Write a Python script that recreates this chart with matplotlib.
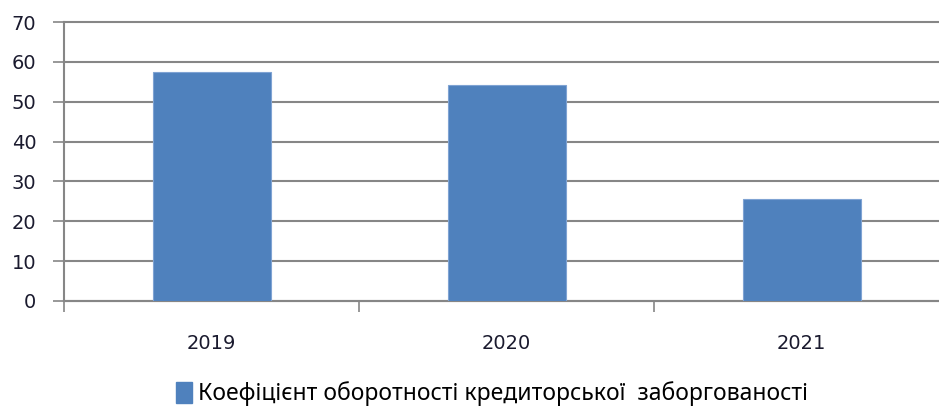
import matplotlib.pyplot as plt
from matplotlib.patches import Patch

# ---------- Дані ----------
roky = ["2019", "2020", "2021"]
koef = [57.4, 54.2, 25.7]
nazva_ryadu = "Коефіцієнт оборотності кредиторської  заборгованості"

# ---------- Графік ----------
fig = plt.figure(figsize=(9.39, 4.07), dpi=100)
ax = fig.add_axes([64 / 939, 106 / 407, 885 / 939, 279 / 407])

sirij = "#868686"
ax.bar(range(len(roky)), koef, width=0.4, color="#4F81BD",
       edgecolor="#7FA3D3", linewidth=0.8, zorder=3)

ax.set_xlim(-0.5, 2.5)
ax.set_ylim(0, 70)
ax.set_yticks(range(0, 71, 10))
ax.yaxis.grid(True, color=sirij, linewidth=1.5, zorder=0)
for g in ax.get_ygridlines():
    g.set_clip_on(False)

ax.set_xticks(range(len(roky)))
ax.set_xticklabels(roky)
ax.set_xticks([-0.5, 0.5, 1.5, 2.5], minor=True)
ax.tick_params(axis="x", which="major", length=0, pad=24)
ax.tick_params(axis="x", which="minor", length=8, width=1.2, color=sirij)
ax.tick_params(axis="y", length=8, width=1.2, color=sirij, pad=12)
for lbl in ax.get_xticklabels() + ax.get_yticklabels():
    lbl.set_fontsize(14)
    lbl.set_color("#1a1a2e")

for s in ["top", "right"]:
    ax.spines[s].set_visible(False)
for s in ["left", "bottom"]:
    ax.spines[s].set_color(sirij)
    ax.spines[s].set_linewidth(1.5)

fig.legend(handles=[Patch(color="#4F81BD", label=nazva_ryadu)],
           loc="center", bbox_to_anchor=(492 / 939, 1 - 394 / 407),
           frameon=False, handlelength=0.7, handleheight=1.0,
           handletextpad=0.3, prop={"family": "Noto Sans", "size": 16.5})

plt.savefig("out.png", dpi=100)
